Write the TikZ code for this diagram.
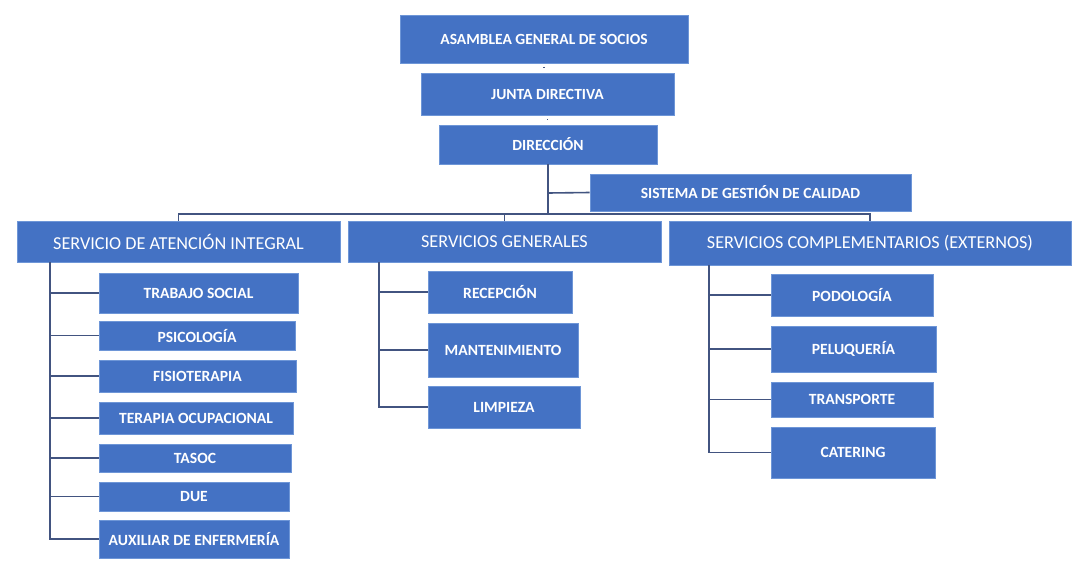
\documentclass[tikz,border=0pt]{standalone}
\usepackage{fontspec}
\setmainfont{Carlito}
\usetikzlibrary{calc}
\definecolor{boxblue}{RGB}{68,114,196}
\definecolor{boxedge}{RGB}{110,150,215}
\definecolor{linecol}{RGB}{66,84,128}
\tikzset{
  box/.style={fill=boxblue, draw=boxedge, line width=0.6pt, text=white, inner sep=0pt, anchor=center, font=\fontsize{15.5}{18}\selectfont\bfseries},
  bigbox/.style={box, font=\fontsize{18.2}{20}\selectfont},
  kid/.style={box, font=\fontsize{15.6}{17}\selectfont\bfseries},
  conn/.style={draw=linecol, line width=1.6pt},
}
\begin{document}
\begin{tikzpicture}[x=1pt,y=-1pt]
\useasboundingbox (0,0) rectangle (1091,573);
% top levels
\node[box, minimum width=288, minimum height=48] (asam) at (544,39) {ASAMBLEA GENERAL DE SOCIOS};
\node[box, minimum width=253, minimum height=42] (junta) at (547.5,94) {JUNTA DIRECTIVA};
\node[box, minimum width=218, minimum height=39] (dir) at (548,144.5) {DIRECCIÓN};
\node[box, minimum width=321, minimum height=37] (sis) at (750.5,192.5) {SISTEMA DE GESTIÓN DE CALIDAD};
% second level
\node[bigbox, minimum width=323, minimum height=41] (sai) at (178.5,241.5) {SERVICIO DE ATENCIÓN INTEGRAL};
\node[bigbox, minimum width=313, minimum height=41] (sg) at (504.5,241.5) {SERVICIOS GENERALES};
\node[bigbox, minimum width=402, minimum height=44] (sc) at (870,243) {SERVICIOS COMPLEMENTARIOS (EXTERNOS)};
% SAI children
\node[kid, minimum width=199, minimum height=40] (ts) at (198.5,293) {TRABAJO SOCIAL};
\node[kid, minimum width=196, minimum height=29] (ps) at (197,335.5) {PSICOLOGÍA};
\node[kid, minimum width=197, minimum height=32] (fi) at (197.5,376) {FISIOTERAPIA};
\node[kid, minimum width=194, minimum height=32] (to) at (196,418) {TERAPIA OCUPACIONAL};
\node[kid, minimum width=192, minimum height=28] (ta) at (195,458) {TASOC};
\node[kid, minimum width=190, minimum height=29] (du) at (194,496.5) {DUE};
\node[kid, minimum width=190, minimum height=38] (au) at (194,539) {AUXILIAR DE ENFERMERÍA};
% SG children
\node[kid, minimum width=144, minimum height=42] (re) at (500,292) {RECEPCIÓN};
\node[kid, minimum width=150, minimum height=54] (ma) at (503,350) {MANTENIMIENTO};
\node[kid, minimum width=152, minimum height=42] (li) at (504,407) {LIMPIEZA};
% SC children
\node[kid, minimum width=162, minimum height=42] (po) at (852,295) {PODOLOGÍA};
\node[kid, minimum width=165, minimum height=46] (pe) at (853.5,349) {PELUQUERÍA};
\node[kid, minimum width=162, minimum height=35] (tr) at (852,399.5) {TRANSPORTE};
\node[kid, minimum width=164, minimum height=51] (ca) at (853,452.5) {CATERING};
% connectors top
\draw[conn, line width=1.2pt, shorten <=3.5pt, shorten >=4.5pt] (asam.south) -- (junta.north -| asam.south);
\draw[conn, line width=1.2pt, shorten <=3.5pt, shorten >=4.5pt] (junta.south) -- (dir.north -| junta.south);
\coordinate (bus) at (548,214);
\coordinate (sisj) at (548,193);
\draw[conn] (dir.south) -- (bus);
\draw[conn] (sisj) -- (sis.west);
\draw[conn] (sai.north) -- ++(0,-7) -| (sc.north);
\draw[conn] (sg.north) -- ++(0,-7);
% SAI branch
\coordinate (saiT) at (50,262);
\draw[conn] (saiT) |- (au.west);
\foreach \n in {ts,ps,fi,to,ta,du} \draw[conn] (\n.west) -- (\n.west -| saiT);
% SG branch
\coordinate (sgT) at (379,262);
\draw[conn] (sgT) |- (li.west);
\foreach \n in {re,ma} \draw[conn] (\n.west) -- (\n.west -| sgT);
% SC branch
\coordinate (scT) at (709,265);
\draw[conn] (scT) |- (ca.west);
\foreach \n in {po,pe,tr} \draw[conn] (\n.west) -- (\n.west -| scT);
\end{tikzpicture}
\end{document}
